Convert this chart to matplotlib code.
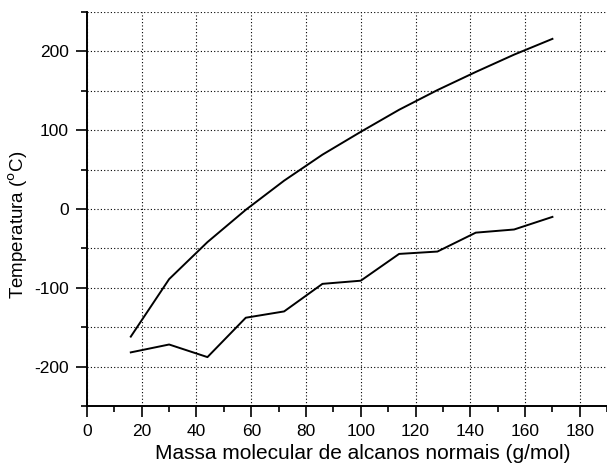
import matplotlib
matplotlib.use("Agg")
import matplotlib.pyplot as plt
from matplotlib.ticker import MultipleLocator

# massa molar (g/mol) dos alcanos C1..C12
massa = [16, 30, 44, 58, 72, 86, 100, 114, 128, 142, 156, 170]
ebulicao = [-162, -89, -42, -1, 36, 69, 98, 126, 151, 174, 196, 216]
fusao = [-182, -172, -188, -138, -130, -95, -91, -57, -54, -30, -26, -10]

plt.rcParams['font.family'] = ['Liberation Sans', 'DejaVu Sans']
plt.rcParams['axes.unicode_minus'] = False

fig = plt.figure(figsize=(6.07, 4.65), dpi=100)
ax = fig.add_axes([0.1433, 0.127, 0.857, 0.847])

ax.plot(massa, ebulicao, color='black', lw=1.4)
ax.plot(massa, fusao, color='black', lw=1.4)

ax.set_xlim(0, 190)
ax.set_ylim(-250, 250)
ax.xaxis.set_major_locator(MultipleLocator(20))
ax.xaxis.set_minor_locator(MultipleLocator(10))
ax.yaxis.set_major_locator(MultipleLocator(100))
ax.yaxis.set_minor_locator(MultipleLocator(50))
ax.set_xticks([0, 20, 40, 60, 80, 100, 120, 140, 160, 180])

ax.grid(True, which='major', axis='x', color='black', ls=(0, (1, 2)), lw=0.8)
ax.grid(True, which='both', axis='y', color='black', ls=(0, (1, 2)), lw=0.8)

for s in ['top', 'right']:
    ax.spines[s].set_visible(False)
ax.spines['left'].set_linewidth(1.4)
ax.spines['bottom'].set_linewidth(1.4)
ax.tick_params(which='major', direction='out', length=8, width=1.2, labelsize=12.5, pad=5)
ax.tick_params(which='minor', direction='out', length=4, width=1.2)

ax.set_xlabel('Massa molecular de alcanos normais (g/mol)', fontsize=15)
ax.set_ylabel('Temperatura ($^{\\rm o}$C)', fontsize=13.5)
ax.xaxis.set_label_coords(0.531, -0.097)
ax.yaxis.set_label_coords(-0.11, 0.459)

fig.savefig('out.png', dpi=100)
